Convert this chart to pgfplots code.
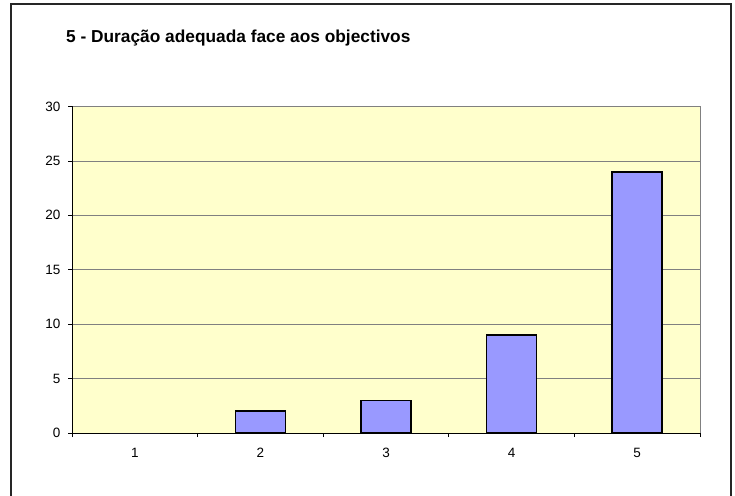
\documentclass[border=0pt]{standalone}
\usepackage{fontspec}
\setmainfont{Liberation Sans}
\usepackage{pgfplots}
\pgfplotsset{compat=1.18}
\definecolor{plotbg}{HTML}{FFFFCC}
\definecolor{barc}{HTML}{9999FF}
\begin{document}
\begin{tikzpicture}[x=1pt,y=1pt]
\path[use as bounding box] (0,0) rectangle (735,495);
\draw[line width=1.2pt, black!85] (11,-20) rectangle (731,491);
\node[anchor=base west, font=\fontsize{17.3}{20}\selectfont\bfseries, inner sep=0] at (66,452) {5 - Duração adequada face aos objectivos};
\begin{axis}[
  at={(72pt,62pt)}, anchor=south west,
  scale only axis, width=628pt, height=326.5pt,
  xmin=0.5, xmax=5.5, ymin=0, ymax=30,
  ytick={0,5,...,30}, xtick={1,...,5},
  minor xtick={0.5,1.5,...,5.5},
  axis lines=left,
  axis line style={-, black, line width=0.9pt},
  axis background/.style={fill=plotbg, draw=gray, line width=1pt},
  ymajorgrids, grid style={gray, line width=0.8pt},
  tick align=outside,
  major tick length=4pt, minor tick length=4pt,
  tick style={black, line width=0.8pt},
  major x tick style={draw=none},
  /pgf/number format/assume math mode=true,
  tick label style={font=\fontsize{13.5}{15}\selectfont},
  yticklabel style={xshift=-4pt},
  xticklabel style={yshift=-8pt},
  ybar, bar width=50pt, bar shift=0pt,
]
\addplot[fill=barc, draw=none] coordinates {(1,0)};
\addplot[fill=barc, draw=black, line width=1.5pt] coordinates {(2,2) (3,3) (4,9) (5,24)};
\end{axis}
\end{tikzpicture}
\end{document}
